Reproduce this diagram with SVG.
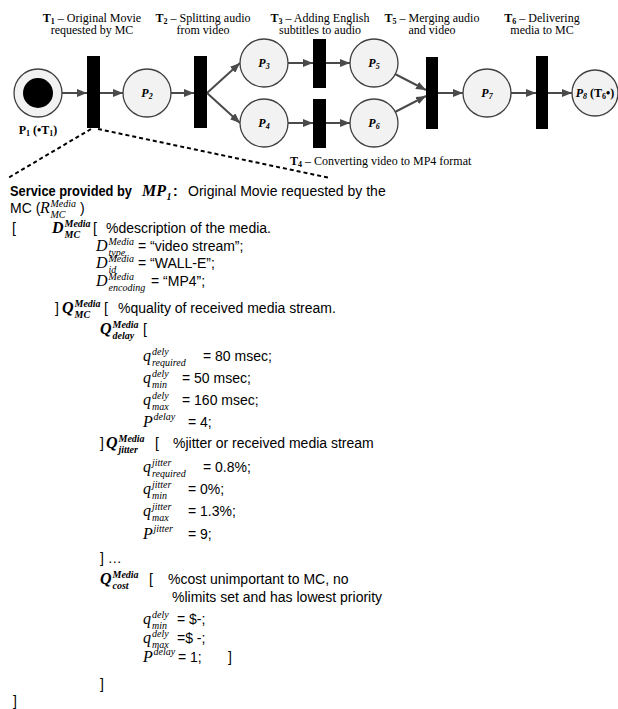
<svg xmlns="http://www.w3.org/2000/svg" width="618" height="709" viewBox="0 0 618 709">
<style>
.place{fill:#f2f2f2;stroke:#404040;stroke-width:1.3}
.trans{fill:#000}
.arc{stroke:#4a4a4a;stroke-width:2;fill:none;marker-end:url(#ah)}
.dash{stroke:#000;stroke-width:2;stroke-dasharray:4 3;fill:none}
.lbl{font-family:"Liberation Serif","Times New Roman",serif;font-size:12px;fill:#000}
.pl{font-family:"Liberation Serif","Times New Roman",serif;font-size:12px;font-weight:bold;font-style:italic;fill:#000}
.tx{font-family:"Liberation Sans",Arial,sans-serif;font-size:14px;fill:#000}
.b{font-weight:bold}
.mi{font-family:"Liberation Serif","Times New Roman",serif;font-style:italic;font-size:16px;fill:#000}
.sc{font-family:"Liberation Serif","Times New Roman",serif;font-style:italic;font-size:10px;fill:#000}
</style>
<defs>
<marker id="ah" markerUnits="userSpaceOnUse" markerWidth="10" markerHeight="8" refX="10" refY="4" orient="auto">
<path d="M0,0 L10,4 L0,8 z" fill="#4a4a4a"/>
</marker>
</defs>

<g id="connectors">
<path class="arc" d="M62,93 L87,93"/>
<path class="arc" d="M100,93 L123,93"/>
<path class="arc" d="M171,93 L194,93"/>
<path class="arc" d="M207,93 L240,63"/>
<path class="arc" d="M207,93 L240,123"/>
<path class="arc" d="M288,63 L313,63"/>
<path class="arc" d="M326,63 L350,63"/>
<path class="arc" d="M288,123 L313,123"/>
<path class="arc" d="M326,123 L350,123"/>
<path class="arc" d="M395,74 L426,90"/>
<path class="arc" d="M395,112 L426,96"/>
<path class="arc" d="M438,93 L463,93"/>
<path class="arc" d="M511,93 L536,93"/>
<path class="arc" d="M548,93 L572,93"/>
<path class="dash" d="M91,129 L8,178"/>
<path class="dash" d="M98,129 L330,178"/>
</g>

<g id="P1"><circle class="place" cx="38" cy="93" r="24"/><circle cx="38" cy="93" r="15" fill="#000"/>
<text class="lbl b" x="38" y="134" text-anchor="middle">P<tspan font-size="8" dy="2">1</tspan><tspan dy="-2"> (•T</tspan><tspan font-size="8" dy="2">1</tspan><tspan dy="-2">)</tspan></text></g>
<g id="T1"><rect class="trans" x="87" y="56" width="13" height="72"/>
<text class="lbl" x="92" y="22" text-anchor="middle"><tspan font-weight="bold">T</tspan><tspan font-weight="bold" font-size="8" dy="2">1</tspan><tspan dy="-2"> – Original Movie</tspan></text>
<text class="lbl" x="92" y="34" text-anchor="middle">requested by MC</text></g>
<g id="P2"><circle class="place" cx="147" cy="93" r="24"/><text class="pl" x="147" y="97" text-anchor="middle">P<tspan font-size="8" dy="2">2</tspan></text></g>
<g id="T2"><rect class="trans" x="194" y="56" width="13" height="72"/>
<text class="lbl" x="203" y="22" text-anchor="middle"><tspan font-weight="bold">T</tspan><tspan font-weight="bold" font-size="8" dy="2">2</tspan><tspan dy="-2"> – Splitting audio</tspan></text>
<text class="lbl" x="203" y="34" text-anchor="middle">from video</text></g>
<g id="P3"><circle class="place" cx="264" cy="63" r="24"/><text class="pl" x="264" y="67" text-anchor="middle">P<tspan font-size="8" dy="2">3</tspan></text></g>
<g id="P4"><circle class="place" cx="264" cy="123" r="24"/><text class="pl" x="264" y="127" text-anchor="middle">P<tspan font-size="8" dy="2">4</tspan></text></g>
<g id="T3"><rect class="trans" x="313" y="39" width="13" height="49"/>
<text class="lbl" x="320" y="22" text-anchor="middle"><tspan font-weight="bold">T</tspan><tspan font-weight="bold" font-size="8" dy="2">3</tspan><tspan dy="-2"> – Adding English</tspan></text>
<text class="lbl" x="320" y="34" text-anchor="middle">subtitles to audio</text></g>
<g id="T4"><rect class="trans" x="313" y="99" width="13" height="49"/>
<text class="lbl" x="290" y="165"><tspan font-weight="bold">T</tspan><tspan font-weight="bold" font-size="8" dy="2">4</tspan><tspan dy="-2"> – Converting video to MP4 format</tspan></text></g>
<g id="P5"><circle class="place" cx="374" cy="63" r="24"/><text class="pl" x="374" y="67" text-anchor="middle">P<tspan font-size="8" dy="2">5</tspan></text></g>
<g id="P6"><circle class="place" cx="374" cy="123" r="24"/><text class="pl" x="374" y="127" text-anchor="middle">P<tspan font-size="8" dy="2">6</tspan></text></g>
<g id="T5"><rect class="trans" x="426" y="57" width="12" height="72"/>
<text class="lbl" x="432" y="22" text-anchor="middle"><tspan font-weight="bold">T</tspan><tspan font-weight="bold" font-size="8" dy="2">5</tspan><tspan dy="-2"> – Merging audio</tspan></text>
<text class="lbl" x="432" y="34" text-anchor="middle">and video</text></g>
<g id="P7"><circle class="place" cx="487" cy="93" r="24"/><text class="pl" x="487" y="97" text-anchor="middle">P<tspan font-size="8" dy="2">7</tspan></text></g>
<g id="T6"><rect class="trans" x="536" y="56" width="12" height="73"/>
<text class="lbl" x="542" y="22" text-anchor="middle"><tspan font-weight="bold">T</tspan><tspan font-weight="bold" font-size="8" dy="2">6</tspan><tspan dy="-2"> – Delivering</tspan></text>
<text class="lbl" x="542" y="34" text-anchor="middle">media to MC</text></g>
<g id="P8"><circle class="place" cx="595" cy="93" r="23"/>
<text class="pl" x="595" y="97" text-anchor="middle">P<tspan font-size="8" dy="2">8</tspan><tspan dy="-2" font-style="normal"> (T</tspan><tspan font-style="normal" font-size="8" dy="2">6</tspan><tspan font-style="normal" dy="-2">•)</tspan></text></g>

<g id="service-text">
<text class="tx b" x="10" y="196" textLength="122" lengthAdjust="spacingAndGlyphs">Service provided by</text>
<text class="mi b" x="142" y="196">MP</text><text class="sc b" font-style="normal" x="166.5" y="200">1</text>
<text class="tx b" x="173" y="196">:</text>
<text class="tx" x="188" y="196">Original Movie requested by the</text>

<text class="tx" x="10" y="213">MC (</text>
<text class="mi" x="40" y="213">R</text><text class="sc" x="50.5" y="207">Media</text><text class="sc" x="50.5" y="217.5">MC</text>
<text class="tx" x="80" y="213">)</text>

<text class="tx" x="12" y="233">[</text>
<text class="mi b" x="52" y="233">D</text><text class="sc b" x="64.5" y="227">Media</text><text class="sc b" x="64.5" y="237.5">MC</text>
<text class="tx" x="93" y="233">[</text>
<text class="tx" x="106" y="233">%description of the media.</text>

<text class="mi" x="96" y="251">D</text><text class="sc" x="108.5" y="245">Media</text><text class="sc" x="108.5" y="255.5">type</text>
<text class="tx" x="138" y="251">= “video stream”;</text>

<text class="mi" x="96" y="268">D</text><text class="sc" x="108.5" y="262">Media</text><text class="sc" x="108.5" y="272.5">id</text>
<text class="tx" x="138" y="268">= “WALL-E”;</text>

<text class="mi" x="96" y="286">D</text><text class="sc" x="108.5" y="280">Media</text><text class="sc" x="108.5" y="290.5">encoding</text>
<text class="tx" x="151" y="286">= “MP4”;</text>

<text class="tx" x="55" y="313">]</text>
<text class="mi b" x="62" y="313">Q</text><text class="sc b" x="74.5" y="307">Media</text><text class="sc b" x="74.5" y="317.5">MC</text>
<text class="tx" x="104" y="313">[</text>
<text class="tx" x="118" y="313">%quality of received media stream.</text>

<text class="mi b" x="100" y="334">Q</text><text class="sc b" x="112.5" y="328">Media</text><text class="sc b" x="112.5" y="338.5">delay</text>
<text class="tx" x="143" y="334">[</text>

<text class="mi" x="143" y="361">q</text><text class="sc" x="152" y="355">dely</text><text class="sc" x="152" y="365.5">required</text>
<text class="tx" x="203" y="361">= 80 msec;</text>
<text class="mi" x="143" y="383">q</text><text class="sc" x="152" y="377">dely</text><text class="sc" x="152" y="387.5">min</text>
<text class="tx" x="182" y="383">= 50 msec;</text>
<text class="mi" x="143" y="405">q</text><text class="sc" x="152" y="399">dely</text><text class="sc" x="152" y="409.5">max</text>
<text class="tx" x="182" y="405">= 160 msec;</text>
<text class="mi" x="143" y="427">P</text><text class="sc" x="153.5" y="420">delay</text>
<text class="tx" x="188" y="427">= 4;</text>

<text class="tx" x="100" y="448">]</text>
<text class="mi b" x="106" y="448">Q</text><text class="sc b" x="118.5" y="442">Media</text><text class="sc b" x="118.5" y="452.5">jitter</text>
<text class="tx" x="155" y="448">[</text>
<text class="tx" x="173" y="448">%jitter or received media stream</text>

<text class="mi" x="143" y="472">q</text><text class="sc" x="152" y="466">jitter</text><text class="sc" x="152" y="476.5">required</text>
<text class="tx" x="203" y="472">= 0.8%;</text>
<text class="mi" x="143" y="494">q</text><text class="sc" x="152" y="488">jitter</text><text class="sc" x="152" y="498.5">min</text>
<text class="tx" x="188" y="494">= 0%;</text>
<text class="mi" x="143" y="516">q</text><text class="sc" x="152" y="510">jitter</text><text class="sc" x="152" y="520.5">max</text>
<text class="tx" x="188" y="516">= 1.3%;</text>
<text class="mi" x="143" y="539">P</text><text class="sc" x="153.5" y="532">jitter</text>
<text class="tx" x="188" y="539">= 9;</text>

<text class="tx" x="100" y="563">] …</text>

<text class="mi b" x="100" y="584">Q</text><text class="sc b" x="112.5" y="578">Media</text><text class="sc b" x="112.5" y="588.5">cost</text>
<text class="tx" x="149" y="584">[</text>
<text class="tx" x="168" y="584">%cost unimportant to MC, no</text>
<text class="tx" x="172" y="602">%limits set and has lowest priority</text>

<text class="mi" x="143" y="624">q</text><text class="sc" x="152" y="618">dely</text><text class="sc" x="152" y="628.5">min</text>
<text class="tx" x="177" y="624">= $-;</text>
<text class="mi" x="143" y="643">q</text><text class="sc" x="152" y="637">dely</text><text class="sc" x="152" y="647.5">max</text>
<text class="tx" x="177" y="643">=$ -;</text>
<text class="mi" x="143" y="662">P</text><text class="sc" x="153.5" y="655">delay</text>
<text class="tx" x="178" y="662">= 1;</text>
<text class="tx" x="228" y="662">]</text>

<text class="tx" x="100" y="689">]</text>
<text class="tx" x="13" y="706">]</text>
</g>
</svg>
